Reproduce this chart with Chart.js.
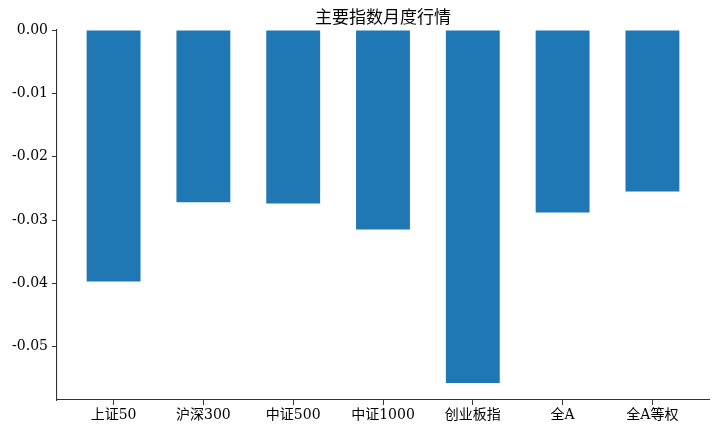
<!DOCTYPE html>
<html>
<head>
<meta charset="utf-8">
<script src="https://cdn.jsdelivr.net/npm/chart.js@4"></script>
<style>
html,body{margin:0;padding:0;background:#fff;}
#wrap{width:720px;height:432px;}
</style>
</head>
<body>
<div id="wrap"><canvas id="c" width="720" height="432"></canvas></div>
<script>
const categories = ["上证50", "沪深300", "中证500", "中证1000", "创业板指", "全A", "全A等权"];
const values = [-0.0397, -0.0272, -0.0274, -0.0315, -0.0557, -0.0288, -0.0255];
const yTicks = [0, -0.01, -0.02, -0.03, -0.04, -0.05];
const titleText = "主要指数月度行情";

const FONT = '"DejaVu Serif", "Noto Sans CJK SC", serif';

const titlePlugin = {
  id: 'customTitle',
  afterDraw(chart) {
    const ctx = chart.ctx;
    const a = chart.chartArea;
    ctx.save();
    ctx.font = '17px ' + FONT;
    ctx.fillStyle = '#000';
    ctx.textAlign = 'center';
    ctx.textBaseline = 'middle';
    ctx.fillText(titleText, (a.left + a.right) / 2, 19);
    ctx.restore();
  }
};

new Chart(document.getElementById('c'), {
  type: 'bar',
  data: {
    datasets: [{
      data: values.map((v, i) => ({x: i, y: v})),
      backgroundColor: '#1f77b4',
      borderWidth: 0,
      barPercentage: 0.6,
      categoryPercentage: 1.0
    }]
  },
  options: {
    responsive: false,
    animation: false,
    devicePixelRatio: 1,
    layout: {padding: {top: 30, right: 11, left: 0, bottom: 0}},
    plugins: {legend: {display: false}, tooltip: {enabled: false}, title: {display: false}},
    scales: {
      x: {
        type: 'linear',
        min: -0.63,
        max: 6.63,
        offset: false,
        afterBuildTicks: s => { s.ticks = categories.map((c, i) => ({value: i})); },
        afterFit: s => { s.height = 32; },
        ticks: {
          autoSkip: false, maxRotation: 0, minRotation: 0,
          padding: 2,
          color: '#000',
          font: {family: FONT, size: 14},
          callback: v => categories[v]
        },
        grid: {display: true, offset: false, drawOnChartArea: false, drawTicks: true, tickLength: 5, color: '#333', lineWidth: 1},
        border: {display: true, color: '#333', width: 1.1}
      },
      y: {
        min: -0.0584,
        max: 0,
        afterBuildTicks: s => { s.ticks = yTicks.map(v => ({value: v})); },
        afterFit: s => { s.width = 57; },
        ticks: {
          padding: 4,
          color: '#000',
          font: {family: FONT, size: 14},
          callback: v => (Math.abs(v) < 1e-12 ? 0 : v).toFixed(2)
        },
        grid: {display: true, offset: false, drawOnChartArea: false, drawTicks: true, tickLength: 5, color: '#333', lineWidth: 1},
        border: {display: true, color: '#333', width: 1.1}
      }
    }
  },
  plugins: [titlePlugin]
});
</script>
</body>
</html>
